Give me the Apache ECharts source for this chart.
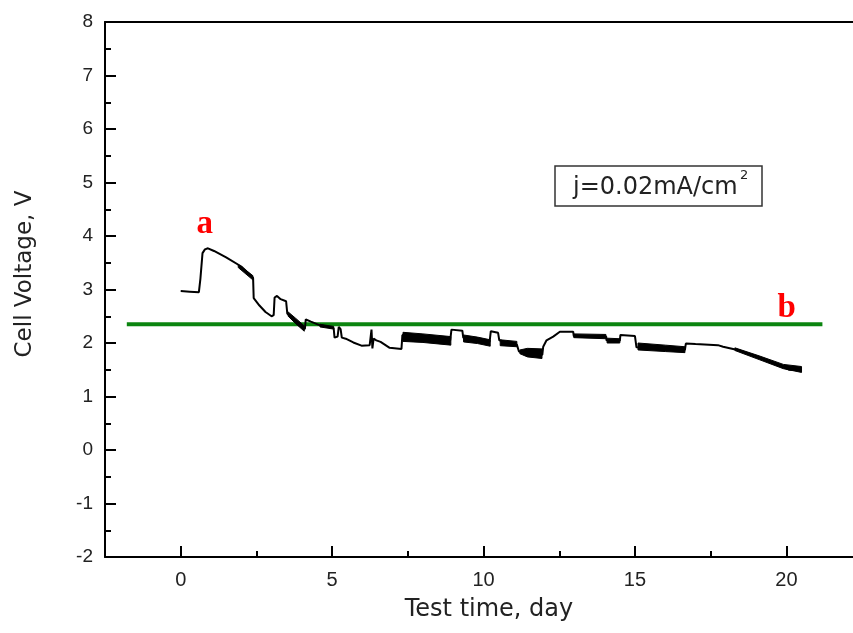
<!DOCTYPE html>
<html>
<head>
<meta charset="utf-8">
<script src="https://cdn.jsdelivr.net/npm/echarts@6/dist/echarts.min.js"></script>
<style>
  html, body { margin: 0; padding: 0; background: #fff; }
  #chart { width: 853px; height: 633px; }
</style>
</head>
<body>
<div id="chart"></div>
<script>
// cell voltage trace, [day, V]
const voltageTrace = [
  [0.0, 2.97], [0.3, 2.96], [0.6, 2.95], [0.65, 3.2], [0.72, 3.68], [0.8, 3.75], [0.9, 3.77],
  [1.1, 3.72], [1.5, 3.6], [2.0, 3.43], [2.39, 3.22], [2.41, 2.84], [2.6, 2.7], [2.8, 2.58],
  [3.0, 2.5], [3.07, 2.52], [3.1, 2.85], [3.18, 2.88], [3.3, 2.82], [3.48, 2.78], [3.52, 2.55],
  [3.7, 2.45], [3.9, 2.35], [4.1, 2.26], [4.13, 2.44], [4.3, 2.4], [4.6, 2.33], [4.9, 2.3],
  [5.05, 2.28], [5.08, 2.1], [5.18, 2.12], [5.22, 2.3], [5.28, 2.26], [5.32, 2.1], [5.45, 2.08],
  [5.7, 2.01], [5.97, 1.95], [6.24, 1.96], [6.3, 2.25], [6.33, 1.9], [6.37, 2.08], [6.46, 2.05],
  [6.6, 2.02], [6.9, 1.91], [7.29, 1.89], [7.32, 2.15], [8.9, 2.05], [8.94, 2.25], [9.3, 2.23],
  [9.33, 2.1], [10.2, 2.02], [10.24, 2.22], [10.48, 2.19], [10.52, 2.05], [11.1, 1.97],
  [11.17, 1.84], [11.94, 1.78], [11.97, 1.93], [12.08, 2.05], [12.3, 2.12], [12.52, 2.21],
  [12.96, 2.21], [12.98, 2.13], [13.5, 2.13], [14.05, 2.12], [14.06, 2.05], [14.5, 2.04],
  [14.52, 2.15], [15.0, 2.13], [15.05, 1.92], [16.65, 1.87], [16.68, 1.99], [17.0, 1.98],
  [17.74, 1.96], [17.91, 1.93], [18.46, 1.86], [19.12, 1.72], [19.95, 1.54], [20.1, 1.5], [20.5, 1.49]
];

// noisy stretches drawn as filled bands, [day, low V, high V]
const band1 = [[1.9, 3.41, 3.47], [2.38, 3.18, 3.26]];
const band2 = [[3.55, 2.5, 2.58], [3.8, 2.36, 2.46], [4.08, 2.22, 2.32]];
const band3 = [[4.6, 2.3, 2.35], [5.05, 2.26, 2.31]];
const band4 = [[7.34, 2.03, 2.2], [8.0, 2.01, 2.17], [8.92, 1.96, 2.12]];
const band5 = [[9.34, 2.02, 2.15], [9.8, 1.99, 2.11], [10.22, 1.94, 2.06]];
const band6 = [[10.55, 1.95, 2.06], [11.1, 1.93, 2.03]];
const band7 = [[11.2, 1.8, 1.87], [11.45, 1.74, 1.9], [11.93, 1.71, 1.89]];
const band8 = [[12.98, 2.1, 2.17], [14.04, 2.08, 2.16]];
const band9 = [[14.08, 2.0, 2.09], [14.5, 2.0, 2.08]];
const band10 = [[15.1, 1.87, 2.0], [16.0, 1.84, 1.96], [16.65, 1.82, 1.93]];
const band11 = [[18.3, 1.86, 1.91], [19.1, 1.69, 1.76], [19.9, 1.52, 1.6], [20.5, 1.45, 1.56]];
const noiseBands = [band1, band2, band3, band4, band5, band6, band7, band8, band9, band10, band11];

// green reference line
const referenceLine = [[-1.78, 2.35], [21.19, 2.35]];

// annotations a and b
const annotationNames = ['a', 'b'];
const annotationPoints = [[0.79, 4.21], [20.01, 2.64]];

const xTickValues = [0, 5, 10, 15, 20];
const xMinorTickValues = [2.5, 7.5, 12.5, 17.5];

const chart = echarts.init(document.getElementById('chart'));

const axisLineStyle = { color: '#000', width: 2 };

let option = {
  animation: false,
  grid: { left: 105, right: 0, top: 22, bottom: 76 },
  xAxis: [
    {
      type: 'value', position: 'bottom', min: -2.5, max: 22.2,
      axisLine: { show: true, onZero: false, lineStyle: axisLineStyle },
      axisTick: { show: true, inside: true, length: 11, customValues: xTickValues, lineStyle: axisLineStyle },
      axisLabel: { customValues: xTickValues, fontSize: 20, color: '#222', margin: 13, fontFamily: 'Liberation Sans' },
      splitLine: { show: false }
    },
    {
      type: 'value', position: 'bottom', min: -2.5, max: 22.2,
      axisLine: { show: false, onZero: false },
      axisTick: { show: true, inside: true, length: 6, customValues: xMinorTickValues, lineStyle: axisLineStyle },
      axisLabel: { show: false },
      splitLine: { show: false }
    },
    {
      type: 'value', position: 'top', min: -2.5, max: 22.2,
      axisLine: { show: true, onZero: false, lineStyle: axisLineStyle },
      axisTick: { show: false },
      axisLabel: { show: false },
      splitLine: { show: false }
    }
  ],
  yAxis: {
    type: 'value', min: -2, max: 8, interval: 1,
    axisLine: { show: true, onZero: false, lineStyle: axisLineStyle },
    axisTick: { show: true, inside: true, length: 11, lineStyle: axisLineStyle },
    minorTick: { show: true, splitNumber: 2, length: 6, lineStyle: axisLineStyle },
    axisLabel: { fontSize: 19, color: '#222', margin: 12, fontFamily: 'Liberation Sans' },
    splitLine: { show: false }
  },
  graphic: [
    {
      type: 'text', x: 489, y: 610,
      style: { text: 'Test time, day', align: 'center', verticalAlign: 'middle', font: '24px "DejaVu Sans"', fill: '#222' }
    },
    {
      type: 'text', x: 25, y: 274, rotation: Math.PI / 2,
      style: { text: 'Cell Voltage, V', align: 'center', verticalAlign: 'middle', font: '23px "DejaVu Sans"', fill: '#222' }
    },
    {
      type: 'rect', shape: { x: 555, y: 166, width: 207, height: 40 },
      style: { fill: '#fff', stroke: '#333', lineWidth: 1.5 }
    },
    {
      type: 'text', x: 573, y: 188,
      style: { text: 'j=0.02mA/cm', align: 'left', verticalAlign: 'middle', font: '24px "DejaVu Sans"', fill: '#222' }
    },
    {
      type: 'text', x: 740, y: 176,
      style: { text: '2', align: 'left', verticalAlign: 'middle', font: '13px "DejaVu Sans"', fill: '#222' }
    }
  ],
  series: [
    {
      type: 'line', data: referenceLine, symbol: 'none', z: 1,
      lineStyle: { color: '#0b850f', width: 4 }
    },
    {
      type: 'line', data: voltageTrace, symbol: 'none', z: 2,
      lineStyle: { color: '#000', width: 2 }
    },
    {
      type: 'custom', z: 3,
      data: noiseBands.map(b => [b[0][0], b[0][2]]),
      renderItem: function (params, api) {
        const band = noiseBands[params.dataIndex];
        const upper = band.map(p => api.coord([p[0], p[2]]));
        const lower = band.map(p => api.coord([p[0], p[1]])).reverse();
        return {
          type: 'polygon',
          shape: { points: upper.concat(lower) },
          style: { fill: '#000', stroke: '#000', lineWidth: 1 }
        };
      }
    },
    {
      type: 'scatter', z: 4, symbolSize: 1,
      itemStyle: { color: 'transparent' },
      data: annotationPoints.map((p, i) => [p[0], p[1], annotationNames[i]]),
      label: {
        show: true, position: 'inside',
        formatter: p => p.value[2],
        fontFamily: 'Liberation Serif', fontWeight: 'bold', fontSize: 33, color: '#ff0000', opacity: 1
      }
    }
  ]
};
chart.setOption(option);
</script>
</body>
</html>
